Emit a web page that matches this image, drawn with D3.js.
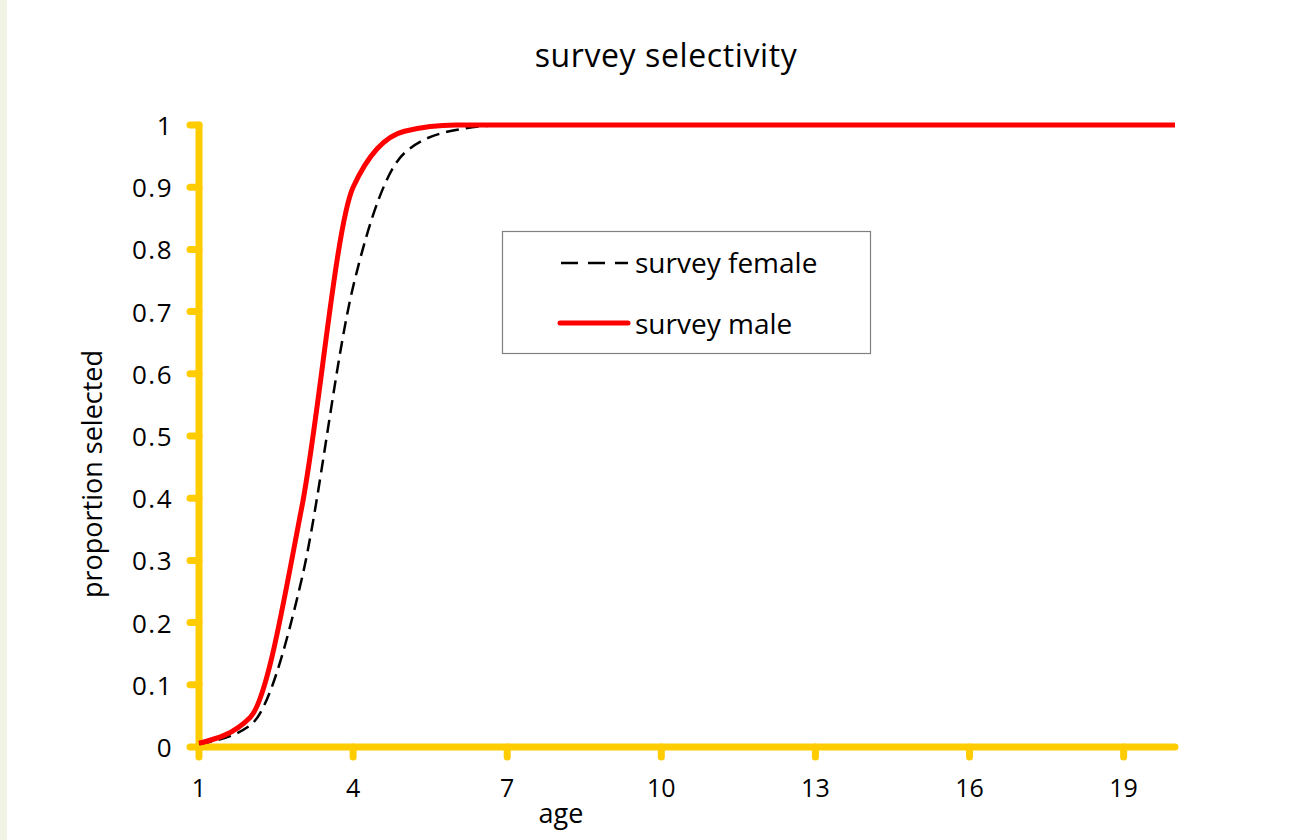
<!DOCTYPE html>
<html><head><meta charset="utf-8">
<script src="https://cdn.jsdelivr.net/npm/d3@7"></script>
<style>
html,body{margin:0;padding:0;background:#fff;}
svg{display:block;}
</style></head>
<body>
<script>
const ages = [1,2,3,4,5,6,7,8,9,10,11,12,13,14,15,16,17,18,19,20];
const female = [0.005,0.035,0.27,0.74,0.955,0.992,1,1,1,1,1,1,1,1,1,1,1,1,1,1];
const male = [0.006,0.048,0.385,0.90,0.99,1,1,1,1,1,1,1,1,1,1,1,1,1,1,1];
const xTicks = [1,4,7,10,13,16,19];
const yTicks = [0,0.1,0.2,0.3,0.4,0.5,0.6,0.7,0.8,0.9,1];

const W=1310,H=840;
const svg=d3.select("body").append("svg").attr("width",W).attr("height",H);
svg.append("rect").attr("x",0).attr("y",0).attr("width",7).attr("height",H).attr("fill","#F1F3E4");

const x=d3.scaleLinear().domain([1,20]).range([199,1175]);
const y=d3.scaleLinear().domain([0,1]).range([747,125]);
const font="'Open Sans', 'DejaVu Sans', sans-serif";
const axCol="#FFCC00";

svg.append("text").attr("x",666).attr("y",67).attr("text-anchor","middle")
  .attr("font-family",font).attr("font-size",32).attr("letter-spacing",0.6).attr("fill","#000").text("survey selectivity");

const g=svg.append("g");
g.selectAll(".yt").data(yTicks).enter().append("line")
  .attr("x1",190).attr("x2",199).attr("y1",d=>y(d)).attr("y2",d=>y(d))
  .attr("stroke",axCol).attr("stroke-width",7).attr("stroke-linecap","round");
g.selectAll(".xt").data(xTicks).enter().append("line")
  .attr("x1",d=>x(d)).attr("x2",d=>x(d)).attr("y1",747).attr("y2",757)
  .attr("stroke",axCol).attr("stroke-width",7).attr("stroke-linecap","round");
g.append("line").attr("x1",x(1)).attr("x2",x(1)).attr("y1",y(1)).attr("y2",y(0))
  .attr("stroke",axCol).attr("stroke-width",7).attr("stroke-linecap","round");
g.append("line").attr("x1",x(1)).attr("x2",x(20)).attr("y1",y(0)).attr("y2",y(0))
  .attr("stroke",axCol).attr("stroke-width",7).attr("stroke-linecap","round");

svg.selectAll(".yl").data(yTicks).enter().append("text")
  .attr("x",173).attr("y",d=>y(d)+10).attr("text-anchor","end")
  .attr("font-family",font).attr("font-size",26).attr("letter-spacing",1.5).attr("fill","#000").text(d=>d3.format("")(d));
svg.selectAll(".xl").data(xTicks).enter().append("text")
  .attr("x",d=>x(d)).attr("y",797).attr("text-anchor","middle")
  .attr("font-family",font).attr("font-size",25).attr("fill","#000").text(d=>d);

svg.append("text").attr("x",561).attr("y",823).attr("text-anchor","middle")
  .attr("font-family",font).attr("font-size",27).attr("fill","#000").text("age");
svg.append("text").attr("transform","translate(102,474) rotate(-90)").attr("text-anchor","middle")
  .attr("font-family",font).attr("font-size",27).attr("fill","#000").text("proportion selected");

const line=d3.line().x((d,i)=>x(ages[i])).y(d=>y(d)).curve(d3.curveMonotoneX);
svg.append("path").attr("d",line(female)).attr("fill","none").attr("stroke","#000")
  .attr("stroke-width",2.5).attr("stroke-dasharray","13,7");
svg.append("path").attr("d",line(male)).attr("fill","none").attr("stroke","#FF0000")
  .attr("stroke-width",5).attr("stroke-linejoin","round");

svg.append("rect").attr("x",502.5).attr("y",231.5).attr("width",368).attr("height",122)
  .attr("fill","#fff").attr("stroke","#808080").attr("stroke-width",1.2);
svg.append("line").attr("x1",561).attr("x2",628).attr("y1",263).attr("y2",263)
  .attr("stroke","#000").attr("stroke-width",2.5).attr("stroke-dasharray","17,10");
svg.append("line").attr("x1",560).attr("x2",628).attr("y1",323).attr("y2",323)
  .attr("stroke","#FF0000").attr("stroke-width",5).attr("stroke-linecap","round");
svg.append("text").attr("x",635).attr("y",273).attr("font-family",font).attr("font-size",28).text("survey female");
svg.append("text").attr("x",635).attr("y",334).attr("font-family",font).attr("font-size",28).text("survey male");
</script>
</body></html>
